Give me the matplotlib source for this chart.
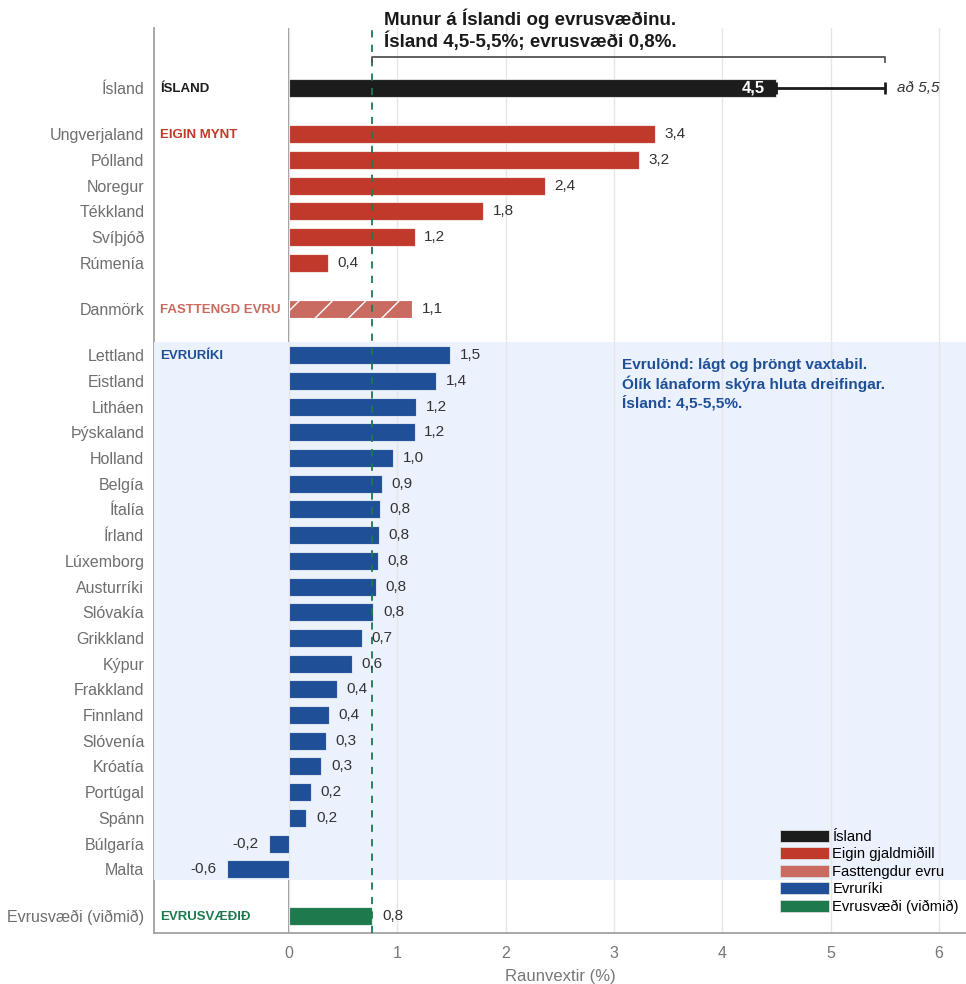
import matplotlib
matplotlib.use("Agg")
import matplotlib.pyplot as plt
from matplotlib.patches import Patch
import matplotlib.transforms as mtransforms

plt.rcParams["font.family"] = ["Liberation Sans", "DejaVu Sans"]

# data
COUNTRIES = [
    "Ísland",
    "Ungverjaland", "Pólland", "Noregur", "Tékkland", "Svíþjóð", "Rúmenía",
    "Danmörk",
    "Lettland", "Eistland", "Litháen", "Þýskaland", "Holland", "Belgía", "Ítalía",
    "Írland", "Lúxemborg", "Austurríki", "Slóvakía", "Grikkland", "Kýpur",
    "Frakkland", "Finnland", "Slóvenía", "Króatía", "Portúgal", "Spánn",
    "Búlgaría", "Malta",
    "Evrusvæði (viðmið)",
]
VALUES = [
    4.5,
    3.38, 3.23, 2.36, 1.79, 1.16, 0.36,
    1.14,
    1.49, 1.36, 1.17, 1.16, 0.96, 0.86, 0.84,
    0.83, 0.82, 0.80, 0.78, 0.67, 0.58,
    0.44, 0.37, 0.34, 0.30, 0.20, 0.16,
    -0.18, -0.57,
    0.77,
]
GROUPS = ["is"] + ["own"] * 6 + ["peg"] + ["euro"] * 21 + ["ea"]
ICELAND_UPPER = 5.5
EA_VALUE = 0.77

GROUP_ORDER = ["is", "own", "peg", "euro", "ea"]
GROUP_COLORS = {
    "is": "#1c1c1c",
    "own": "#c0392b",
    "peg": "#c96b60",
    "euro": "#1f4f97",
    "ea": "#1e7a4c",
}
GROUP_TAGS = {
    "is": "ÍSLAND",
    "own": "EIGIN MYNT",
    "peg": "FASTTENGD EVRU",
    "euro": "EVRURÍKI",
    "ea": "EVRUSVÆÐIÐ",
}
LEGEND_LABELS = {
    "is": "Ísland",
    "own": "Eigin gjaldmiðill",
    "peg": "Fasttengdur evru",
    "euro": "Evruríki",
    "ea": "Evrusvæði (viðmið)",
}

TEXT = "#333333"
GREY = "#6e6e6e"

# row positions: 1 per row, extra gap between groups
ypos = []
y = 0.0
for i, g in enumerate(GROUPS):
    if i > 0:
        y += 1.8 if g != GROUPS[i - 1] else 1.0
    ypos.append(y)

fig = plt.figure(figsize=(9.66, 9.84), dpi=100)
ax = fig.add_axes([154 / 966, 51 / 984, 812 / 966, 905 / 984])
ax.set_xlim(-1.246, 6.25)
ax.set_ylim(32.88, -2.33)

# shaded euro block
euro_y = [p for p, g in zip(ypos, GROUPS) if g == "euro"]
ax.axhspan(euro_y[0] - 0.52, euro_y[-1] + 0.42, color="#ebf1fd", zorder=0.8, lw=0)

ax.grid(axis="x", color="#e6e6e6", lw=1, zorder=0)
ax.axvline(0, color="#8a8a8a", lw=1.3, zorder=0.6)
ax.axvline(EA_VALUE, color="#1e7a4c", lw=1.3, ls=(0, (4, 4)), zorder=3)

for i, (c, v, g) in enumerate(zip(COUNTRIES, VALUES, GROUPS)):
    kw = dict(color=GROUP_COLORS[g], edgecolor=(1, 1, 1, 0.7), linewidth=0.8, zorder=2)
    if g == "peg":
        kw.update(hatch="/", edgecolor="white")
    ax.barh(ypos[i], v, height=0.7, **kw)
    if g == "is":
        continue
    lab = f"{v:.1f}".replace(".", ",")
    if v >= 0:
        ax.annotate(lab, (v, ypos[i]), xytext=(7, 0), textcoords="offset points",
                    ha="left", va="center", fontsize=11, color=TEXT)
    else:
        ax.annotate(lab, (v, ypos[i]), xytext=(-8, 0), textcoords="offset points",
                    ha="right", va="center", fontsize=11, color=TEXT)

# Iceland range 4.5 - 5.5
ax.errorbar(VALUES[0], ypos[0], xerr=[[0], [ICELAND_UPPER - VALUES[0]]], fmt="none",
            ecolor="#1c1c1c", elinewidth=2, capsize=4, capthick=2, zorder=3)
ax.annotate(f"{VALUES[0]:.1f}".replace(".", ","), (VALUES[0], ypos[0]), xytext=(-8, 0),
            textcoords="offset points", ha="right", va="center", fontsize=12,
            fontweight="bold", color="white", zorder=4)
ax.annotate(f"að {ICELAND_UPPER:.1f}".replace(".", ","), (ICELAND_UPPER, ypos[0]),
            xytext=(9, 0), textcoords="offset points", ha="left", va="center",
            fontsize=11, style="italic", color=TEXT)

# bracket between euro area and Iceland upper bound
ax.plot([EA_VALUE, EA_VALUE, ICELAND_UPPER, ICELAND_UPPER], [-1.0, -1.2, -1.2, -1.0],
        color="#555555", lw=1.3, clip_on=False, zorder=3)
ax.text(EA_VALUE + 0.11, -1.45, "Munur á Íslandi og evrusvæðinu.\nÍsland 4,5-5,5%; evrusvæði 0,8%.",
        ha="left", va="bottom", fontsize=13.5, fontweight="bold", color="#1a1a1a",
        linespacing=1.15, clip_on=False)

ax.text(3.07, euro_y[0] + 0.1,
        "Evrulönd: lágt og þröngt vaxtabil.\nÓlík lánaform skýra hluta dreifingar.\nÍsland: 4,5-5,5%.",
        ha="left", va="top", fontsize=11.1, fontweight="bold", color="#1f4f97",
        linespacing=1.25)

# group tags just inside the left spine
trans = mtransforms.blended_transform_factory(ax.transAxes, ax.transData)
for g in GROUP_ORDER:
    first = GROUPS.index(g)
    ax.text(0.0075, ypos[first] + 0.05, GROUP_TAGS[g], transform=trans, ha="left",
            va="center", fontsize=9.5, fontweight="bold", color=GROUP_COLORS[g])

ax.set_yticks(ypos)
ax.set_yticklabels(COUNTRIES, fontsize=11.5, color=GREY)
ax.set_xticks(range(0, 7))
ax.tick_params(axis="both", length=0)
ax.tick_params(axis="y", pad=7)
ax.tick_params(axis="x", pad=9, labelsize=11.5, labelcolor="#777777")
ax.set_xlabel("Raunvextir (%)", fontsize=12, color="#777777", labelpad=6)

for s in ["top", "right"]:
    ax.spines[s].set_visible(False)
for s in ["left", "bottom"]:
    ax.spines[s].set_color("#9a9a9a")
    ax.spines[s].set_linewidth(1.2)
ax.spines["left"].set_zorder(0.7)

handles = [Patch(facecolor=GROUP_COLORS[g], edgecolor="#dddddd", lw=0.6, label=LEGEND_LABELS[g])
           for g in GROUP_ORDER]
ax.legend(handles=handles, loc="lower right", bbox_to_anchor=(0.995, 0.018),
          frameon=False, fontsize=10.6, handlelength=3.3, handleheight=0.9,
          labelspacing=0.22, handletextpad=0.25, borderaxespad=0, borderpad=0.2)

fig.savefig("out.png", dpi=100)
